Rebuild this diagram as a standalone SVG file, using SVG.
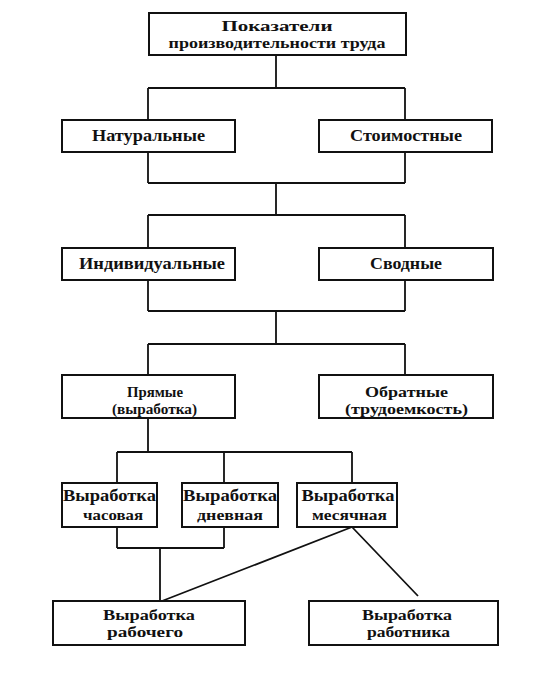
<svg xmlns="http://www.w3.org/2000/svg" width="552" height="677" viewBox="0 0 552 677">
<style>
.box{fill:#fff;stroke:#111;stroke-width:2}
.ln{fill:none;stroke:#111;stroke-width:1.8}
text{font-family:"Liberation Serif","Times New Roman",serif;font-weight:bold;font-size:17px;fill:#111;text-anchor:middle}
.s{font-size:15px}
</style>
<rect width="552" height="677" fill="#fff"/>
<g id="connectors">
<path class="ln" d="M276,55V88M148,88H405M148,88V120M405,88V120M148,152V183M405,152V183M148,183H405M276,183V215M148,215H405M148,215V248M405,215V248M148,280V311M405,280V311M148,311H405M276,311V344M148,344H405M148,344V375M405,344V375M148,418V452M117,452H352M117,452V483M224,452V483M352,452V483M117,527V548M224,527V548M117,548H224M160,548V601M352,527L162,601M352,527L418,596"/>
</g>
<g id="n_top"><rect class="box" x="149" y="13" width="257" height="42"/><text class="s" x="277" y="31" textLength="111" lengthAdjust="spacingAndGlyphs">Показатели</text><text class="s" x="277" y="48" textLength="217" lengthAdjust="spacingAndGlyphs">производительности труда</text></g>
<g id="n_nat"><rect class="box" x="62" y="120" width="173" height="32"/><text x="148.5" y="141" textLength="113" lengthAdjust="spacingAndGlyphs">Натуральные</text></g>
<g id="n_stoim"><rect class="box" x="319" y="120" width="173" height="32"/><text x="406" y="141" textLength="112" lengthAdjust="spacingAndGlyphs">Стоимостные</text></g>
<g id="n_ind"><rect class="box" x="62" y="248" width="173" height="32"/><text x="152" y="269" textLength="146" lengthAdjust="spacingAndGlyphs">Индивидуальные</text></g>
<g id="n_svod"><rect class="box" x="319" y="248" width="174" height="32"/><text x="406" y="269" textLength="72" lengthAdjust="spacingAndGlyphs">Сводные</text></g>
<g id="n_pryam"><rect class="box" x="62" y="375" width="173" height="43"/><text class="s" x="155" y="397" textLength="56" lengthAdjust="spacingAndGlyphs">Прямые</text><text class="s" x="154.5" y="414" textLength="85" lengthAdjust="spacingAndGlyphs">(выработка)</text></g>
<g id="n_obr"><rect class="box" x="319" y="375" width="174" height="43"/><text class="s" x="406.5" y="397" textLength="83" lengthAdjust="spacingAndGlyphs">Обратные</text><text class="s" x="406.5" y="414" textLength="123" lengthAdjust="spacingAndGlyphs">(трудоемкость)</text></g>
<g id="n_chas"><rect class="box" x="62" y="483" width="95" height="44"/><text x="109.5" y="501" textLength="93" lengthAdjust="spacingAndGlyphs">Выработка</text><text class="s" x="113" y="520" textLength="60" lengthAdjust="spacingAndGlyphs">часовая</text></g>
<g id="n_dnev"><rect class="box" x="182" y="483" width="96" height="44"/><text x="230" y="501" textLength="94" lengthAdjust="spacingAndGlyphs">Выработка</text><text class="s" x="230" y="520" textLength="66" lengthAdjust="spacingAndGlyphs">дневная</text></g>
<g id="n_mes"><rect class="box" x="297" y="483" width="100" height="44"/><text x="348" y="501" textLength="93" lengthAdjust="spacingAndGlyphs">Выработка</text><text class="s" x="349.5" y="520" textLength="75" lengthAdjust="spacingAndGlyphs">месячная</text></g>
<g id="n_rab"><rect class="box" x="53" y="601" width="192" height="44"/><text class="s" x="149" y="620" textLength="92" lengthAdjust="spacingAndGlyphs">Выработка</text><text class="s" x="145" y="637" textLength="76" lengthAdjust="spacingAndGlyphs">рабочего</text></g>
<g id="n_rabotnik"><rect class="box" x="309" y="601" width="189" height="44"/><text class="s" x="407" y="620" textLength="90" lengthAdjust="spacingAndGlyphs">Выработка</text><text class="s" x="408.5" y="637" textLength="83" lengthAdjust="spacingAndGlyphs">работника</text></g>
</svg>
